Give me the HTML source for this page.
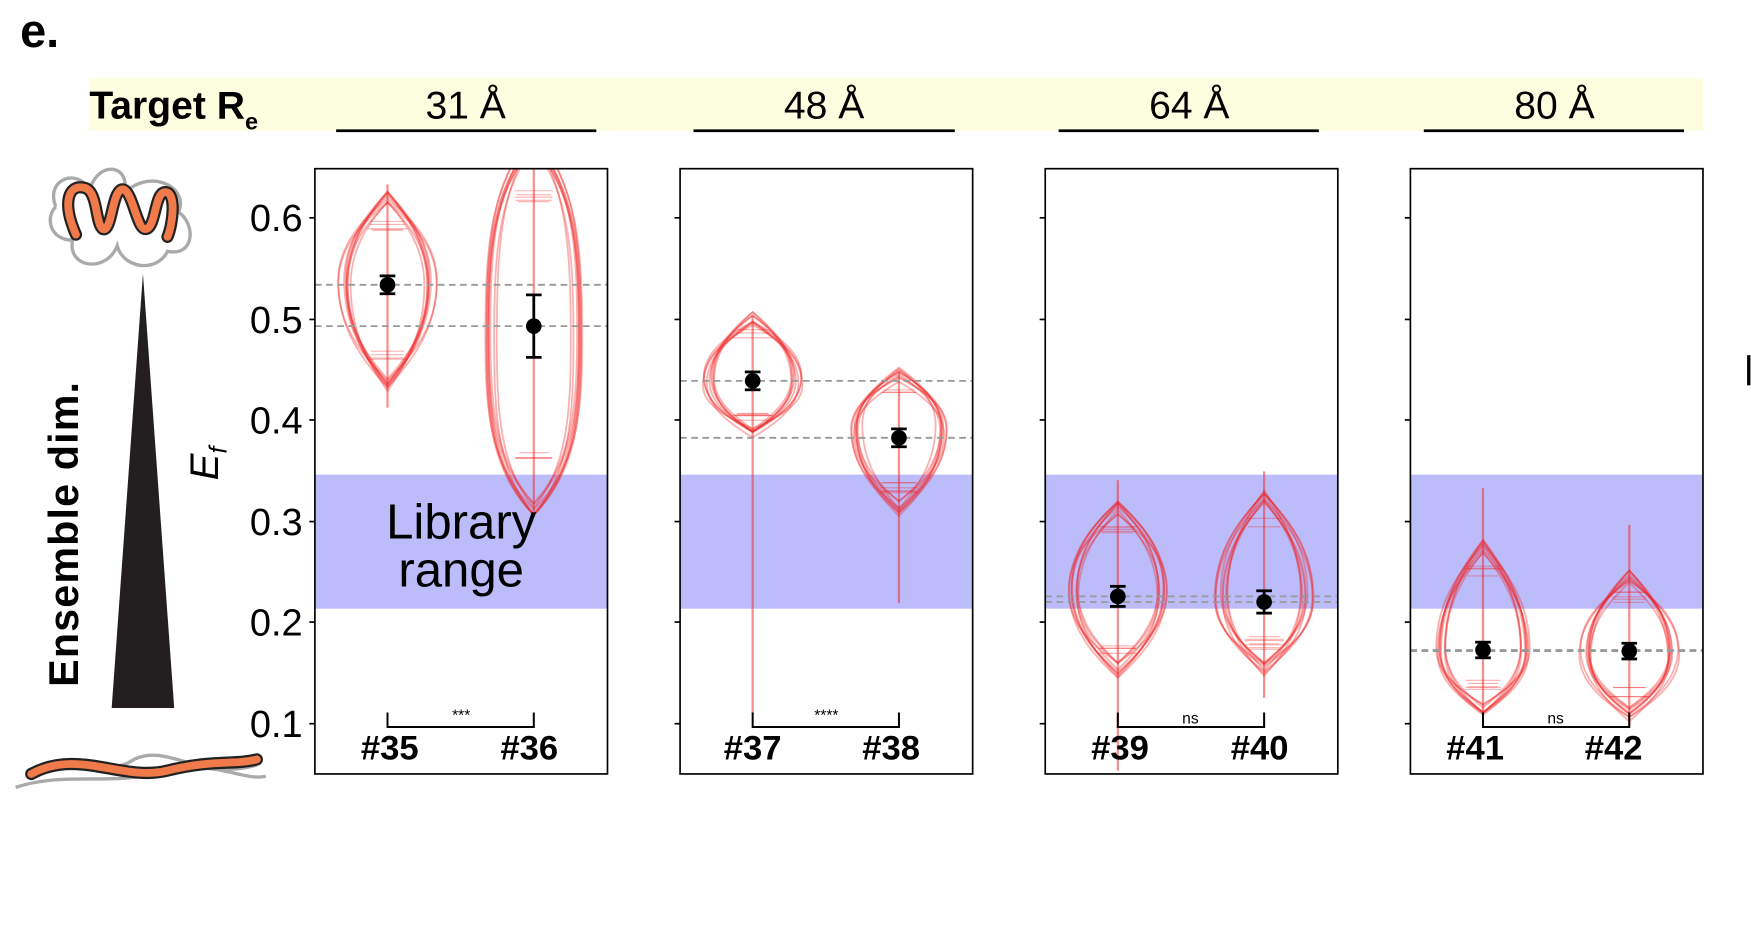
<!DOCTYPE html>
<html><head><meta charset="utf-8"><style>
html,body{margin:0;padding:0;background:#fff}
svg{display:block}
text{font-family:"Liberation Sans",sans-serif}
</style></head><body>
<svg id="s" width="1751" height="927" viewBox="0 0 1568 830" xmlns="http://www.w3.org/2000/svg">
<text x="18" y="42" font-size="42" font-weight="bold">e.</text>
<rect x="80" y="70" width="1445" height="47" fill="#fdfddf"/>
<text x="80" y="106" font-size="35" font-weight="bold">Target R<tspan font-size="21" dy="10">e</tspan></text>
<g font-size="35" text-anchor="middle">
<text x="417" y="106">31 Å</text><text x="738" y="106">48 Å</text><text x="1065" y="106">64 Å</text><text x="1392" y="106">80 Å</text>
</g>
<g stroke="#000" stroke-width="2.5">
<line x1="301" y1="117" x2="534" y2="117"/><line x1="621" y1="117" x2="855" y2="117"/>
<line x1="948" y1="117" x2="1181" y2="117"/><line x1="1275" y1="117" x2="1508" y2="117"/>
</g>
<g fill="none" stroke="#aaa" stroke-width="3">
<path d="M50 185 C40 160 70 150 80 170 C90 140 120 150 110 175 C130 150 170 165 160 190 C175 200 175 230 150 225 C140 245 110 240 105 220 C95 245 60 240 65 215 C45 215 40 195 50 185"/>
<path d="M30 690 C60 670 90 700 120 680 C150 665 180 700 230 685"/>
<path d="M14 705 C60 690 100 705 150 690 C190 680 220 700 238 695"/>
</g>
<path d="M68 210 C55 180 62 165 75 168 C88 170 85 200 92 205 C100 208 100 175 108 170 C118 165 122 205 130 205 C140 205 138 172 148 172 C158 172 155 200 150 212" fill="none" stroke="#222" stroke-width="11" stroke-linecap="round"/>
<path d="M68 210 C55 180 62 165 75 168 C88 170 85 200 92 205 C100 208 100 175 108 170 C118 165 122 205 130 205 C140 205 138 172 148 172 C158 172 155 200 150 212" fill="none" stroke="#f07a4a" stroke-width="7" stroke-linecap="round"/>
<path d="M28 693 C70 670 110 700 150 690 C190 680 210 685 230 680" fill="none" stroke="#222" stroke-width="11" stroke-linecap="round"/>
<path d="M28 693 C70 670 110 700 150 690 C190 680 210 685 230 680" fill="none" stroke="#f07a4a" stroke-width="7" stroke-linecap="round"/>
<polygon points="128,245 100,634 156,634" fill="#231f20"/>
<text transform="translate(70,478) rotate(-90)" font-size="37" font-weight="bold" text-anchor="middle" letter-spacing="1">Ensemble dim.</text>
<text transform="translate(195,415) rotate(-90)" font-size="36" font-style="italic" text-anchor="middle">E<tspan font-size="22" dy="8">f</tspan></text>
<g font-size="34" text-anchor="end">
<text x="271" y="207">0.6</text><text x="271" y="298">0.5</text><text x="271" y="388">0.4</text>
<text x="271" y="479">0.3</text><text x="271" y="569">0.2</text><text x="271" y="660">0.1</text>
</g>
<g id="plots"></g>
<text x="413" y="482" font-size="44" text-anchor="middle">Library</text>
<text x="413" y="525" font-size="44" text-anchor="middle">range</text>
<g font-size="31" font-weight="bold" text-anchor="middle">
<text x="349" y="680">#35</text><text x="474" y="680">#36</text>
<text x="674" y="680">#37</text><text x="798" y="680">#38</text>
<text x="1003" y="680">#39</text><text x="1128" y="680">#40</text>
<text x="1321" y="680">#41</text><text x="1445" y="680">#42</text>
</g>
<g font-size="14" text-anchor="middle">
<text x="413" y="645">***</text><text x="740" y="645">****</text>
<text x="1066" y="648">ns</text><text x="1393" y="648">ns</text>
</g>
</svg>
<script>
var NS="http://www.w3.org/2000/svg",g=document.getElementById("plots");
function el(t,a){var e=document.createElementNS(NS,t);for(var k in a)e.setAttribute(k,a[k]);g.appendChild(e);return e;}
var px=[282,609,936,1263];
px.forEach(function(x){el("rect",{x:x,y:425,width:262,height:120,fill:"#bcbcfa"});});
var clip=document.createElementNS(NS,"clipPath");clip.id="c";g.appendChild(clip);
px.forEach(function(x){var r=document.createElementNS(NS,"rect");r.setAttribute("x",x);r.setAttribute("y",151);r.setAttribute("width",262);r.setAttribute("height",542);clip.appendChild(r);});
var vg=document.createElementNS(NS,"g");vg.setAttribute("clip-path","url(#c)");g.appendChild(vg);
// cx, tail top, body top, widest, body bottom, tail bottom, hw, roundness
var V=[[347,165,175,253,345,365,40,0.5],[478,120,125,300,455,458,40,0.9],[674,283,285,341,390,640,40,0.5],[805,333,336,385,455,540,40,0.5],
[1001,430,455,530,600,690,40,0.5],[1132,422,445,535,600,625,40,0.5],[1328,437,490,580,635,640,40,0.5],[1459,470,515,585,640,650,40,0.5]];
var seed=3;function rnd(){seed=(seed*9301+49297)%233280;return seed/233280;}
V.forEach(function(v){
 var r=v[7];
 for(var i=0;i<9;i++){
  var c=v[0],w=v[6]*(0.82+0.3*rnd()),t=v[2]+(rnd()-.5)*14,m=v[3]+(rnd()-.5)*10,b=v[4]+(rnd()-.5)*14;
  var d="M"+c+" "+t+" C"+(c+w*r)+" "+(t+(m-t)*0.25)+" "+(c+w)+" "+(m-(m-t)*0.45)+" "+(c+w)+" "+m+
  " C"+(c+w)+" "+(m+(b-m)*0.45)+" "+(c+w*r)+" "+(b-(b-m)*0.25)+" "+c+" "+b+
  " C"+(c-w*r)+" "+(b-(b-m)*0.25)+" "+(c-w)+" "+(m+(b-m)*0.45)+" "+(c-w)+" "+m+
  " C"+(c-w)+" "+(m-(m-t)*0.45)+" "+(c-w*r)+" "+(t+(m-t)*0.25)+" "+c+" "+t+"Z";
  var p=document.createElementNS(NS,"path");p.setAttribute("d",d);p.setAttribute("fill","none");p.setAttribute("stroke","#f02020");p.setAttribute("stroke-opacity","0.35");p.setAttribute("stroke-width","1.6");vg.appendChild(p);
  var l=document.createElementNS(NS,"line");var ly=t+(b-t)*(rnd()<.5?0.15:0.85),lw=w*0.4;
  l.setAttribute("x1",c-lw);l.setAttribute("x2",c+lw);l.setAttribute("y1",ly);l.setAttribute("y2",ly);l.setAttribute("stroke","#f02020");l.setAttribute("stroke-opacity","0.35");vg.appendChild(l);
 }
 var l=document.createElementNS(NS,"line");l.setAttribute("x1",v[0]);l.setAttribute("x2",v[0]);l.setAttribute("y1",v[1]);l.setAttribute("y2",v[5]);l.setAttribute("stroke","#f02020");l.setAttribute("stroke-opacity","0.5");l.setAttribute("stroke-width","2");vg.appendChild(l);
});
[[282,255],[282,292],[609,341],[609,392],[936,534],[936,539],[1263,582],[1263,583]].forEach(function(d){el("line",{x1:d[0],x2:d[0]+262,y1:d[1],y2:d[1],stroke:"#999","stroke-dasharray":"6,4","stroke-width":1.6});});
[[347,255,8],[478,292,28],[674,341,8],[805,392,8],[1001,534,9],[1132,539,10],[1328,582,7],[1459,583,7]].forEach(function(m){
 el("line",{x1:m[0],x2:m[0],y1:m[1]-m[2],y2:m[1]+m[2],stroke:"#000","stroke-width":2.5});
 el("line",{x1:m[0]-7,x2:m[0]+7,y1:m[1]-m[2],y2:m[1]-m[2],stroke:"#000","stroke-width":2.5});
 el("line",{x1:m[0]-7,x2:m[0]+7,y1:m[1]+m[2],y2:m[1]+m[2],stroke:"#000","stroke-width":2.5});
 el("circle",{cx:m[0],cy:m[1],r:7,fill:"#000"});
});
[[347,478],[674,805],[1001,1132],[1328,1459]].forEach(function(b){
 el("path",{d:"M"+b[0]+" 638 V651 H"+b[1]+" V638",fill:"none",stroke:"#000","stroke-width":1.8});
});
px.forEach(function(x,i){
 el("rect",{x:x,y:151,width:262,height:542,fill:"none",stroke:"#000","stroke-width":1.5});
 [195,286,376,467,557,648].forEach(function(y){el("line",{x1:x-5,x2:x,y1:y,y2:y,stroke:"#000","stroke-width":1.5});});
});
el("line",{x1:1566,x2:1566,y1:318,y2:345,stroke:"#000","stroke-width":3});
</script>
</body></html>
